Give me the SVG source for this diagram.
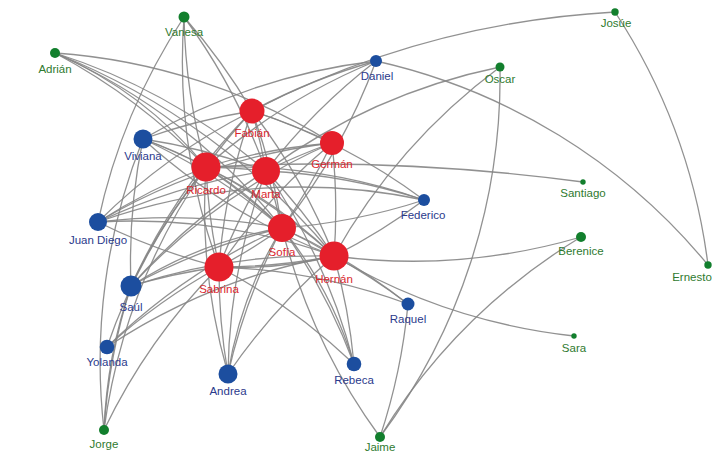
<svg xmlns="http://www.w3.org/2000/svg" width="720" height="462" viewBox="0 0 720 462">
<style>
.e{fill:none;stroke:#858585;stroke-width:1.3;stroke-opacity:0.9}
.r circle{fill:#e51f2b}
.b circle{fill:#1c4e9f}
.g circle{fill:#127f2d}
text{font-family:"Liberation Sans",Arial,sans-serif;font-size:11.5px;text-anchor:middle}
.r text{fill:#d9262e}
.b text{fill:#2b3a8c}
.g text{fill:#2f7a2f}
</style>
<rect width="720" height="462" fill="#fff"/>
<g id="edges">
<path class="e" d="M615 12 A600 600 0 0 1 708 265"/>
<path class="e" d="M252 111 A900 900 0 0 1 615 12"/>
<path class="e" d="M376 61 A600 600 0 0 1 708 265"/>
<path class="e" d="M55 53 A600 600 0 0 1 332 143"/>
<path class="e" d="M55 53 A600 600 0 0 1 206 167"/>
<path class="e" d="M55 53 A400 400 0 0 1 206 167"/>
<path class="e" d="M55 53 A600 600 0 0 1 266 171"/>
<path class="e" d="M55 53 A600 600 0 0 1 282 228"/>
<path class="e" d="M55 53 A700 700 0 0 1 334 256"/>
<path class="e" d="M184 17 A600 600 0 0 0 98 222"/>
<path class="e" d="M184 17 A600 600 0 0 0 206 167"/>
<path class="e" d="M184 17 A600 600 0 0 0 219 267"/>
<path class="e" d="M184 17 A600 600 0 0 1 266 171"/>
<path class="e" d="M184 17 A600 600 0 0 1 252 111"/>
<path class="e" d="M143 139 A600 600 0 0 1 252 111"/>
<path class="e" d="M143 139 A600 600 0 0 1 206 167"/>
<path class="e" d="M143 139 A400 400 0 0 1 206 167"/>
<path class="e" d="M143 139 A600 600 0 0 1 266 171"/>
<path class="e" d="M143 139 A600 600 0 0 1 282 228"/>
<path class="e" d="M143 139 A600 600 0 0 0 334 256"/>
<path class="e" d="M143 139 A600 600 0 0 0 131 286"/>
<path class="e" d="M143 139 A600 600 0 0 0 104 430"/>
<path class="e" d="M143 139 A600 600 0 0 1 376 61"/>
<path class="e" d="M98 222 A600 600 0 0 1 206 167"/>
<path class="e" d="M98 222 A600 600 0 0 1 266 171"/>
<path class="e" d="M98 222 A600 600 0 0 1 252 111"/>
<path class="e" d="M98 222 A600 600 0 0 1 282 228"/>
<path class="e" d="M98 222 A600 600 0 0 1 334 256"/>
<path class="e" d="M98 222 A600 600 0 0 1 424 200"/>
<path class="e" d="M98 222 A600 600 0 0 0 219 267"/>
<path class="e" d="M98 222 A600 600 0 0 1 332 143"/>
<path class="e" d="M131 286 A600 600 0 0 1 206 167"/>
<path class="e" d="M131 286 A600 600 0 0 1 266 171"/>
<path class="e" d="M131 286 A600 600 0 0 1 282 228"/>
<path class="e" d="M131 286 A400 400 0 0 1 282 228"/>
<path class="e" d="M131 286 A600 600 0 0 1 219 267"/>
<path class="e" d="M131 286 A600 600 0 0 1 334 256"/>
<path class="e" d="M131 286 A600 600 0 0 1 252 111"/>
<path class="e" d="M131 286 A600 600 0 0 0 104 430"/>
<path class="e" d="M131 286 A500 500 0 0 0 104 430"/>
<path class="e" d="M131 286 A600 600 0 0 1 332 143"/>
<path class="e" d="M107 347 A600 600 0 0 1 219 267"/>
<path class="e" d="M107 347 A600 600 0 0 1 282 228"/>
<path class="e" d="M107 347 A600 600 0 0 1 334 256"/>
<path class="e" d="M107 347 A600 600 0 0 1 206 167"/>
<path class="e" d="M104 430 A600 600 0 0 1 206 167"/>
<path class="e" d="M104 430 A600 600 0 0 1 219 267"/>
<path class="e" d="M228 374 A600 600 0 0 1 219 267"/>
<path class="e" d="M228 374 A600 600 0 0 1 282 228"/>
<path class="e" d="M228 374 A400 400 0 0 1 282 228"/>
<path class="e" d="M228 374 A600 600 0 0 1 206 167"/>
<path class="e" d="M228 374 A600 600 0 0 1 266 171"/>
<path class="e" d="M228 374 A600 600 0 0 1 334 256"/>
<path class="e" d="M354 364 A600 600 0 0 0 282 228"/>
<path class="e" d="M354 364 A400 400 0 0 0 282 228"/>
<path class="e" d="M354 364 A600 600 0 0 0 334 256"/>
<path class="e" d="M354 364 A600 600 0 0 0 219 267"/>
<path class="e" d="M354 364 A600 600 0 0 0 266 171"/>
<path class="e" d="M408 304 A600 600 0 0 0 334 256"/>
<path class="e" d="M408 304 A600 600 0 0 0 219 267"/>
<path class="e" d="M408 304 A600 600 0 0 1 380 437"/>
<path class="e" d="M408 304 A600 600 0 0 0 282 228"/>
<path class="e" d="M424 200 A600 600 0 0 0 252 111"/>
<path class="e" d="M424 200 A600 600 0 0 0 266 171"/>
<path class="e" d="M424 200 A600 600 0 0 0 206 167"/>
<path class="e" d="M424 200 A600 600 0 0 1 282 228"/>
<path class="e" d="M424 200 A600 600 0 0 1 334 256"/>
<path class="e" d="M376 61 A600 600 0 0 0 252 111"/>
<path class="e" d="M376 61 A600 600 0 0 0 206 167"/>
<path class="e" d="M376 61 A600 600 0 0 0 266 171"/>
<path class="e" d="M376 61 A600 600 0 0 1 282 228"/>
<path class="e" d="M500 67 A600 600 0 0 0 266 171"/>
<path class="e" d="M500 67 A600 600 0 0 0 334 256"/>
<path class="e" d="M500 67 A600 600 0 0 1 380 437"/>
<path class="e" d="M583 182 A2000 2000 0 0 0 206 167"/>
<path class="e" d="M581 237 A600 600 0 0 1 334 256"/>
<path class="e" d="M581 237 A600 600 0 0 0 380 437"/>
<path class="e" d="M574 336 A600 600 0 0 1 334 256"/>
<path class="e" d="M380 437 A600 600 0 0 1 282 228"/>
<path class="e" d="M252 111 A600 600 0 0 1 332 143"/>
<path class="e" d="M252 111 A600 600 0 0 0 206 167"/>
<path class="e" d="M252 111 A600 600 0 0 1 266 171"/>
<path class="e" d="M252 111 A600 600 0 0 1 282 228"/>
<path class="e" d="M252 111 A600 600 0 0 1 334 256"/>
<path class="e" d="M252 111 A600 600 0 0 0 219 267"/>
<path class="e" d="M206 167 A600 600 0 0 1 266 171"/>
<path class="e" d="M206 167 A600 600 0 0 1 282 228"/>
<path class="e" d="M206 167 A400 400 0 0 1 282 228"/>
<path class="e" d="M206 167 A600 600 0 0 0 219 267"/>
<path class="e" d="M206 167 A600 600 0 0 1 334 256"/>
<path class="e" d="M206 167 A500 500 0 0 1 334 256"/>
<path class="e" d="M206 167 A600 600 0 0 1 332 143"/>
<path class="e" d="M266 171 A600 600 0 0 1 282 228"/>
<path class="e" d="M266 171 A600 600 0 0 1 332 143"/>
<path class="e" d="M266 171 A600 600 0 0 1 334 256"/>
<path class="e" d="M266 171 A600 600 0 0 0 219 267"/>
<path class="e" d="M282 228 A600 600 0 0 1 219 267"/>
<path class="e" d="M282 228 A600 600 0 0 1 334 256"/>
<path class="e" d="M282 228 A600 600 0 0 0 332 143"/>
<path class="e" d="M219 267 A600 600 0 0 0 334 256"/>
<path class="e" d="M219 267 A400 400 0 0 0 334 256"/>
<path class="e" d="M332 143 A600 600 0 0 1 334 256"/>
<path class="e" d="M332 143 A600 600 0 0 0 219 267"/>
</g>
<g id="n-vanesa" class="g"><circle cx="184" cy="17" r="5.5"/><text x="184" y="36">Vanesa</text></g>
<g id="n-adrian" class="g"><circle cx="55" cy="53" r="5"/><text x="55" y="73">Adrián</text></g>
<g id="n-josue" class="g"><circle cx="615" cy="12" r="3.7"/><text x="616" y="27">Josúe</text></g>
<g id="n-oscar" class="g"><circle cx="500" cy="67" r="4.5"/><text x="500" y="83">Oscar</text></g>
<g id="n-santiago" class="g"><circle cx="583" cy="182" r="2.7"/><text x="583" y="197">Santiago</text></g>
<g id="n-berenice" class="g"><circle cx="581" cy="237" r="5"/><text x="581" y="255">Berenice</text></g>
<g id="n-ernesto" class="g"><circle cx="708" cy="265" r="3.7"/><text x="692" y="281">Ernesto</text></g>
<g id="n-sara" class="g"><circle cx="574" cy="336" r="2.7"/><text x="574" y="352">Sara</text></g>
<g id="n-jorge" class="g"><circle cx="104" cy="430" r="5"/><text x="104" y="448">Jorge</text></g>
<g id="n-jaime" class="g"><circle cx="380" cy="437" r="5"/><text x="380" y="451">Jaime</text></g>
<g id="n-daniel" class="b"><circle cx="376" cy="61" r="6"/><text x="377" y="80">Daniel</text></g>
<g id="n-viviana" class="b"><circle cx="143" cy="139" r="9.5"/><text x="143" y="160">Viviana</text></g>
<g id="n-federico" class="b"><circle cx="424" cy="200" r="6"/><text x="423" y="219">Federico</text></g>
<g id="n-juandiego" class="b"><circle cx="98" cy="222" r="9"/><text x="98" y="244">Juan Diego</text></g>
<g id="n-saul" class="b"><circle cx="131" cy="286" r="10.5"/><text x="131" y="311">Saúl</text></g>
<g id="n-raquel" class="b"><circle cx="408" cy="304" r="6.5"/><text x="408" y="323">Raquel</text></g>
<g id="n-yolanda" class="b"><circle cx="107" cy="347" r="7.3"/><text x="107" y="366">Yolanda</text></g>
<g id="n-rebeca" class="b"><circle cx="354" cy="364" r="7.3"/><text x="354" y="384">Rebeca</text></g>
<g id="n-andrea" class="b"><circle cx="228" cy="374" r="9.5"/><text x="228" y="395">Andrea</text></g>
<g id="n-fabian" class="r"><circle cx="252" cy="111" r="12.5"/><text x="252" y="137">Fabián</text></g>
<g id="n-german" class="r"><circle cx="332" cy="143" r="12"/><text x="332" y="168">Germán</text></g>
<g id="n-ricardo" class="r"><circle cx="206" cy="167" r="14.5"/><text x="206" y="194">Ricardo</text></g>
<g id="n-marta" class="r"><circle cx="266" cy="171" r="14"/><text x="266" y="198">Marta</text></g>
<g id="n-sofia" class="r"><circle cx="282" cy="228" r="14"/><text x="282" y="256">Sofía</text></g>
<g id="n-sabrina" class="r"><circle cx="219" cy="267" r="14.5"/><text x="219" y="293">Sabrina</text></g>
<g id="n-hernan" class="r"><circle cx="334" cy="256" r="14.5"/><text x="334" y="283">Hernán</text></g>
</svg>
